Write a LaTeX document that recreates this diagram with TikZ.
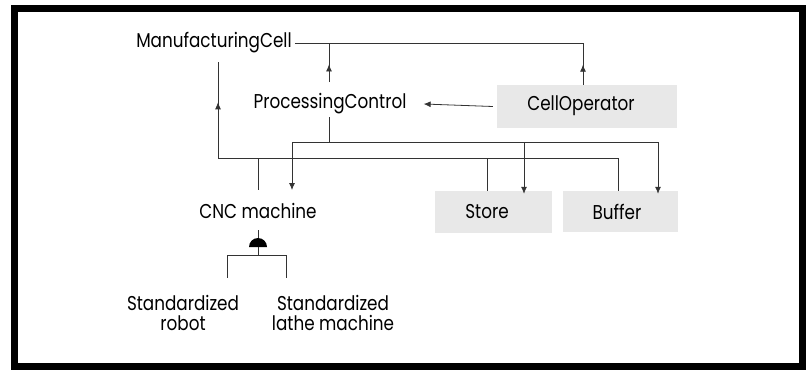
\documentclass[tikz,border=0pt]{standalone}
\usepackage{fontspec}
\setmainfont{Poppins}[FakeStretch=0.84]
\usetikzlibrary{arrows.meta,decorations.markings}
\tikzset{
  lbl/.style={inner sep=0pt, font=\fontsize{20}{20}\selectfont, text=black},
  shaded/.style={fill=black!9, inner sep=0pt},
  conn/.style={draw=black!80, line width=0.8pt},
  arr/.style={conn, -{Latex[length=7pt,width=6pt]}},
  midup/.style={conn, postaction={decorate}, decoration={markings, mark=at position #1 with {\arrow{Latex[length=7pt,width=6pt]}}}},
}
\begin{document}
\begin{tikzpicture}[x=1pt,y=-1pt]
\useasboundingbox (0,0) rectangle (806,372);
\draw[line width=7pt] (14,8) rectangle (802,366);

% nodes
\node[lbl] (mc) at (214,43) {ManufacturingCell};
\node[lbl] (pc) at (330,104) {ProcessingControl};
\node[shaded, minimum width=180pt, minimum height=43pt] (cobox) at (587,106.5) {};
\node[lbl] (co) at (581,106) {CellOperator};
\node[shaded, minimum width=117pt, minimum height=42pt] (stbox) at (493.5,212) {};
\node[lbl] (st) at (487,212) {Store};
\node[shaded, minimum width=115pt, minimum height=41pt] (bfbox) at (620.5,211.5) {};
\node[lbl] (bf) at (617,212) {Buffer};
\node[lbl] (cnc) at (258,211) {CNC machine};
\node[lbl, align=center] (rb) at (183,313) {Standardized\\robot};
\node[lbl, align=center] (lm) at (333,313) {Standardized\\lathe machine};

% junction coordinates
\coordinate (j1) at (329,43);
\coordinate (j2) at (583,43);
\coordinate (pcT) at (329,82);
\coordinate (pcB) at (329,117);
\coordinate (h1L) at (292,142);
\coordinate (h1M) at (524,142);
\coordinate (h1R) at (658,142);
\coordinate (mcB) at (218,62);
\coordinate (h2L) at (218,158);
\coordinate (h2C) at (258,158);
\coordinate (h2S) at (487,158);
\coordinate (h2R) at (618,158);
\coordinate (cncB) at (258,230);
\coordinate (dmT) at (258,239);
\coordinate (dm) at (258,247);
\coordinate (h3L) at (227,255);
\coordinate (h3R) at (286,255);
\coordinate (rbT) at (227,278);
\coordinate (lmT) at (286,278);
\coordinate (cncT) at (258,190);
\coordinate (cncA) at (292,190);

% top: ManufacturingCell to ProcessingControl and CellOperator
\draw[conn] ([xshift=3pt]mc.east) -- (j2);
\draw[midup=0.45] (pcT) -- (j1);
\draw[midup=0.48] (j2 |- cobox.north) -- (j2);

% CellOperator -> ProcessingControl
\draw[arr] ([xshift=-4pt]cobox.west) -- ([xshift=17pt]pc.east);

% ProcessingControl -> CNC, Store, Buffer
\draw[conn] (pcB) -- (pcB |- h1L);
\draw[conn] (h1L) -- (h1R);
\draw[arr] (h1L) -- (cncA);
\draw[arr] (h1M) -- ([yshift=-3pt]h1M |- stbox.north);
\draw[arr] (h1R) -- ([yshift=-3pt]h1R |- bfbox.north);

% CNC, Store, Buffer -> ManufacturingCell
\draw[midup=0.58] (h2L) -- (mcB);
\draw[conn] (h2L) -- (h2R);
\draw[conn] (h2C) -- (cncT);
\draw[conn] (h2S) -- (h2S |- stbox.north);
\draw[conn] (h2R) -- (h2R |- bfbox.north);

% CNC machine whole-part
\draw[conn] (cncB) -- (dmT);
\fill[black] ([xshift=-9pt]dm) arc[start angle=180, end angle=0, radius=9pt] -- cycle;
\draw[conn] (dm) -- (dm |- h3L);
\draw[conn] (h3L) -- (h3R);
\draw[conn] (h3L) -- (rbT);
\draw[conn] (h3R) -- (lmT);
\end{tikzpicture}
\end{document}
